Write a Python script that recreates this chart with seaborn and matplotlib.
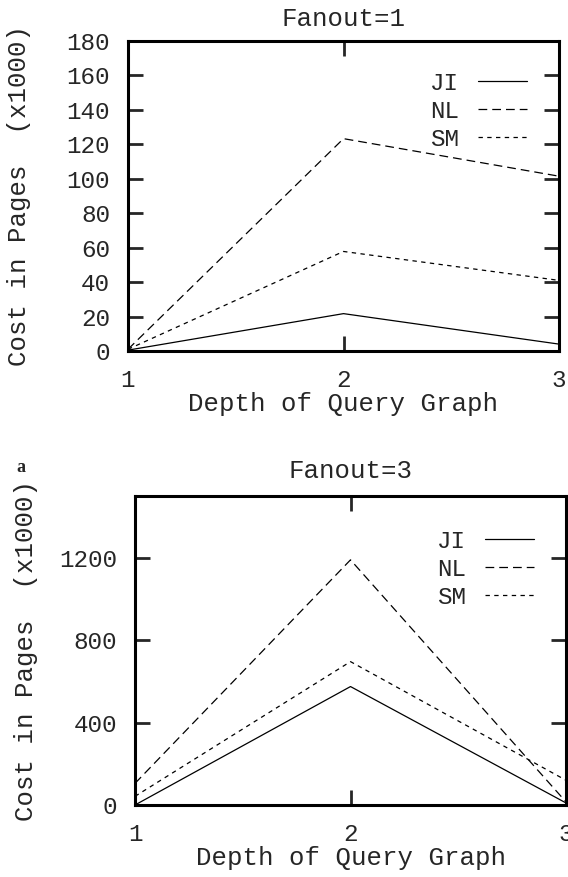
import pandas as pd
import matplotlib
matplotlib.use("Agg")
import matplotlib.pyplot as plt
import seaborn as sns

# --- DONNEES ---
depth = [1, 2, 3]
methods = ["JI", "NL", "SM"]

# Fanout=1
f1_ji = [0.5, 21.7, 4.0]
f1_nl = [1.0, 123.3, 101.5]
f1_sm = [1.0, 57.8, 41.0]

# Fanout=3
f3_ji = [0, 575, 10]
f3_nl = [105, 1190, 15]
f3_sm = [42, 696, 120]


def to_long(ji, nl, sm):
    rows = []
    for name, vals in zip(methods, [ji, nl, sm]):
        for d, v in zip(depth, vals):
            rows.append({"depth": d, "cost": v, "method": name})
    return pd.DataFrame(rows)


df1 = to_long(f1_ji, f1_nl, f1_sm)
df3 = to_long(f3_ji, f3_nl, f3_sm)

sns.set_style("white")
plt.rcParams["font.family"] = ["Liberation Mono", "DejaVu Sans Mono"]

FS_TICK = 17.5
FS_LAB = 18.5
dashes = {"JI": "", "NL": (7, 4), "SM": (3.5, 3.5)}

fig = plt.figure(figsize=(5.68, 8.77), dpi=100)
ax1 = fig.add_axes([128 / 568, (877 - 351) / 877, 431 / 568, 310 / 877])
ax2 = fig.add_axes([135 / 568, (877 - 805) / 877, 431 / 568, 309 / 877])


def style_axes(ax, df, title, ylim, yticks, leg_anchor, title_pad):
    sns.lineplot(data=df, x="depth", y="cost", hue="method", style="method",
                 palette={m: "black" for m in methods}, dashes=dashes,
                 linewidth=0.9, ax=ax, legend=True)
    ax.set_xlim(1, 3)
    ax.set_ylim(*ylim)
    ax.set_xticks(depth)
    ax.set_yticks(yticks)
    ax.tick_params(axis="both", which="major", direction="in", length=11,
                   width=2, labelsize=FS_TICK, top=True, right=True,
                   left=True, bottom=True)
    ax.tick_params(axis="y", pad=13)
    ax.tick_params(axis="x", pad=13)
    for sp in ax.spines.values():
        sp.set_linewidth(2.2)
        sp.set_color("black")
    ax.set_title(title, fontsize=FS_LAB, pad=title_pad)
    ax.set_xlabel("Depth of Query Graph", fontsize=FS_LAB, labelpad=0)
    ax.set_ylabel("Cost in Pages  (x1000)", fontsize=FS_LAB)
    ax.yaxis.set_label_coords(-0.225, 0.5)
    handles, labels = ax.get_legend_handles_labels()
    ax.legend(handles, labels, loc="upper right", bbox_to_anchor=leg_anchor,
              frameon=False, fontsize=FS_TICK, markerfirst=False,
              handlelength=2.0, handletextpad=0.8, labelspacing=0.2,
              borderpad=0, borderaxespad=0)


style_axes(ax1, df1, "Fanout=1", (0, 180), range(0, 181, 20), (0.926, 0.90), 11)
style_axes(ax2, df3, "Fanout=3", (0, 1500), [0, 400, 800, 1200], (0.926, 0.89), 13)

fig.text(16 / 568, 1 - 467 / 877, "a", fontsize=13, fontweight="bold",
         family=["Liberation Serif", "DejaVu Serif"], va="center", ha="left")

fig.savefig("out.png", dpi=100)
